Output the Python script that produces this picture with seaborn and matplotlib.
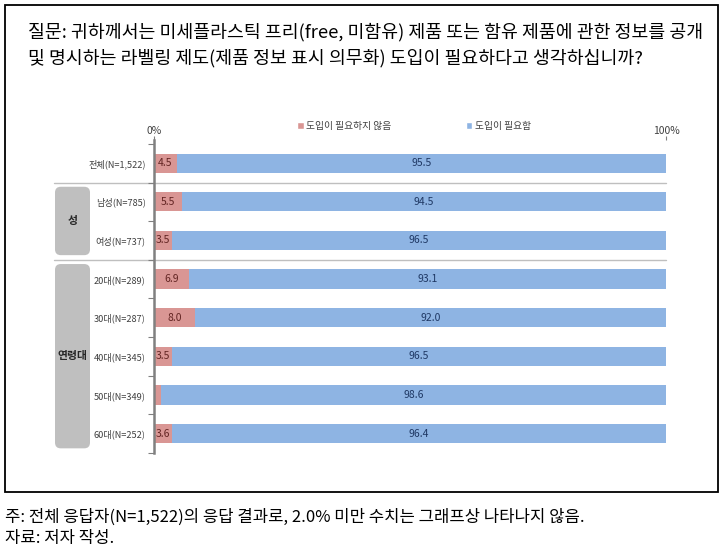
import seaborn as sns
import matplotlib.pyplot as plt
import pandas as pd
from matplotlib.patches import FancyBboxPatch, Rectangle, Patch
import matplotlib.transforms as mtransforms

categories = ['전체(N=1,522)', '남성(N=785)', '여성(N=737)', '20대(N=289)',
              '30대(N=287)', '40대(N=345)', '50대(N=349)', '60대(N=252)']
not_needed = [4.5, 5.5, 3.5, 6.9, 8.0, 3.5, 1.4, 3.6]
needed = [95.5, 94.5, 96.5, 93.1, 92.0, 96.5, 98.6, 96.4]
series_names = ['도입이 필요하지 않음', '도입이 필요함']
groups = [('성', 1, 2), ('연령대', 3, 7)]

title = ('질문: 귀하께서는 미세플라스틱 프리(free, 미함유) 제품 또는 함유 제품에 관한 정보를 공개\n'
         '및 명시하는 라벨링 제도(제품 정보 표시 의무화) 도입이 필요하다고 생각하십니까?')
note = ('주: 전체 응답자(N=1,522)의 응답 결과로, 2.0% 미만 수치는 그래프상 나타나지 않음.\n'
        '자료: 저자 작성.')

pink = '#D99694'
blue = '#8EB4E3'

df = pd.DataFrame({'category': categories, 'not_needed': not_needed, 'needed': needed})
df['total'] = df['not_needed'] + df['needed']

sns.set_style('white')
plt.rcParams['font.family'] = ['Noto Sans CJK KR', 'DejaVu Sans']

fig = plt.figure(figsize=(7.24, 5.51), dpi=100)
ax = fig.add_axes([0.2127, 0.1779, 0.7072, 0.568])

# stacked: full bar in blue, pink segment on top
sns.barplot(data=df, x='total', y='category', color=blue, saturation=1.0,
            width=0.5, edgecolor='none', ax=ax)
sns.barplot(data=df, x='not_needed', y='category', color=pink, saturation=1.0,
            width=0.5, edgecolor='none', ax=ax)

ax.set_xlim(0, 100)
ax.set_ylim(7.45, -0.6)
ax.set_xlabel('')
ax.set_ylabel('')

# value labels (values under 2.0 are not shown)
for i, (p, b) in enumerate(zip(not_needed, needed)):
    if p >= 2.0:
        ax.text(p / 2, i, f'{p:.1f}', ha='center', va='center', fontsize=7.5, color='#632523')
    ax.text(p + b / 2, i, f'{b:.1f}', ha='center', va='center', fontsize=7.5, color='#1F3864')

# axes styling
for s in ['top', 'right', 'bottom']:
    ax.spines[s].set_visible(False)
ax.spines['left'].set_color('#808080')
ax.spines['left'].set_linewidth(1.8)
ax.xaxis.tick_top()
ax.set_xticks([0, 100])
ax.set_xticklabels(['0%', '100%'])
ax.tick_params(axis='x', top=True, length=3, width=0.8, color='#808080',
               labelsize=7.5, pad=0, labelcolor='#404040')
ax.set_yticks(range(len(categories)))
ax.set_yticklabels(categories)
ax.tick_params(axis='y', length=0, labelsize=6.6, pad=6, labelcolor='#404040')
ax.set_yticks([i + 0.5 for i in range(-1, len(categories))], minor=True)
ax.tick_params(axis='y', which='minor', left=True, length=4, width=0.8, color='#808080')

# group separators
blend = mtransforms.blended_transform_factory(ax.transAxes, ax.transData)
for y in [0.5, 2.5]:
    ax.plot([-0.196, 1.0], [y, y], color='#BFBFBF', lw=1.0, transform=blend,
            clip_on=False, zorder=0)

# group boxes
to_fig = ax.transData + fig.transFigure.inverted()
for name, a, b in groups:
    (_, y0), = to_fig.transform([(0, a - 0.39)])
    (_, y1), = to_fig.transform([(0, b + 0.38)])
    x0, w = 55 / 724, 35 / 724
    box = FancyBboxPatch((x0, y1), w, y0 - y1, boxstyle='round,pad=0,rounding_size=0.008',
                         mutation_aspect=724 / 551, transform=fig.transFigure,
                         facecolor='#BFBFBF', edgecolor='none')
    fig.patches.append(box)
    fig.text(x0 + w / 2, (y0 + y1) / 2, name, ha='center', va='center',
             fontsize=7.8, fontweight='bold', color='#262626')

# legend
handles = [Patch(facecolor=pink, label=series_names[0]),
           Patch(facecolor=blue, label=series_names[1])]
ax.legend(handles=handles, loc='center', bbox_to_anchor=(0.508, 1.045), ncol=2,
          frameon=False, fontsize=7.0, handlelength=0.7, handleheight=0.7,
          handletextpad=0.3, columnspacing=7.6, labelcolor='#404040')

# title, border, note
fig.text(28 / 724, 1 - 45 / 551, title, ha='left', va='center', fontsize=13.2,
         linespacing=1.5, color='#000000')
fig.patches.append(Rectangle((5 / 724, 1 - 492 / 551), 713 / 724, 487 / 551,
                             transform=fig.transFigure, fill=False,
                             edgecolor='black', lw=1.3))
fig.text(5 / 724, 1 - 528 / 551, note, ha='left', va='center', fontsize=12,
         linespacing=1.3, color='#000000')

fig.savefig('out.png', dpi=100)
